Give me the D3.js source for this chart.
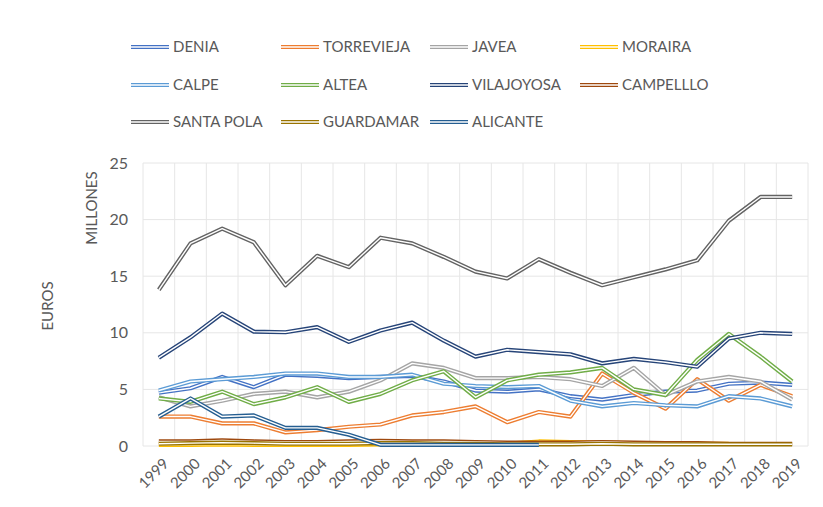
<!DOCTYPE html>
<html>
<head>
<meta charset="utf-8">
<script src="https://cdn.jsdelivr.net/npm/d3@7"></script>
<style>
body { margin: 0; background: #fff; }
text { font-family: Lato, "Open Sans", sans-serif; fill: #595959; }
</style>
</head>
<body>
<div id="chart"></div>
<script>
// years on the x axis
var years = ["1999","2000","2001","2002","2003","2004","2005","2006","2007","2008","2009",
  "2010","2011","2012","2013","2014","2015","2016","2017","2018","2019"];
var yTicks = [0, 5, 10, 15, 20, 25];

// series values (millones de euros)
var denia      = [4.7,5.1,6.1,5.2,6.3,6.2,6.0,6.1,6.2,5.7,4.9,4.8,5.0,4.4,4.1,4.5,4.8,4.9,5.5,5.6,5.4];
var torrevieja = [2.6,2.6,2.0,2.0,1.2,1.4,1.7,1.9,2.7,3.0,3.5,2.1,3.0,2.6,6.4,4.7,3.3,5.9,4.0,5.4,4.4];
var javea      = [4.3,3.5,4.0,4.6,4.8,4.3,4.8,5.8,7.3,6.9,6.0,6.0,6.1,5.9,5.3,6.9,4.5,5.7,6.1,5.7,4.1];
var moraira    = [0.1,0.1,0.15,0.1,0.1,0.1,0.1,0.15,0.15,0.2,0.2,0.2,0.4,0.35,0.3,0.25,0.2,0.2,0.2,null,null];
var calpe      = [4.9,5.7,5.9,6.1,6.4,6.4,6.1,6.1,6.3,5.5,5.3,5.2,5.3,4.0,3.5,3.8,3.6,3.5,4.4,4.2,3.5];
var altea      = [4.2,3.9,4.8,3.7,4.3,5.2,3.9,4.6,5.8,6.6,4.3,5.8,6.3,6.5,6.9,5.0,4.5,7.6,9.9,7.9,5.7];
var vilajoyosa = [7.8,9.6,11.7,10.1,10.05,10.5,9.2,10.2,10.9,9.3,7.9,8.5,8.3,8.1,7.3,7.7,7.4,7.0,9.5,10.0,9.9];
var campelllo  = [0.4,0.4,0.5,0.4,0.35,0.35,0.4,0.45,0.4,0.4,0.35,0.3,0.3,0.3,0.35,0.3,0.25,0.25,0.2,0.2,0.2];
var santaPola  = [13.8,17.9,19.2,18.0,14.2,16.8,15.8,18.4,17.9,16.7,15.4,14.8,16.5,15.3,14.2,14.9,15.6,16.4,19.9,22.0,22.0];
var guardamar  = [0.2,0.25,0.3,0.25,0.2,0.2,0.2,0.25,0.25,0.2,0.2,0.15,0.15,0.15,0.2,0.15,0.15,0.15,0.15,0.15,0.15];
var alicante   = [2.6,4.2,2.6,2.7,1.6,1.6,1.0,0.1,0.1,0.1,0.1,0.1,0.1,null,null,null,null,null,null,null,null];

var names  = ["DENIA","TORREVIEJA","JAVEA","MORAIRA","CALPE","ALTEA","VILAJOYOSA","CAMPELLLO","SANTA POLA","GUARDAMAR","ALICANTE"];
var colors = ["#4472C4","#ED7D31","#A5A5A5","#FFC000","#5B9BD5","#70AD47","#264478","#9E480E","#636363","#997300","#255E91"];
var values = [denia, torrevieja, javea, moraira, calpe, altea, vilajoyosa, campelllo, santaPola, guardamar, alicante];

var series = names.map(function (n, i) {
  return { name: n, color: colors[i], values: values[i] };
});

var width = 823, height = 507;
var plot = { left: 143, right: 808, top: 163, bottom: 446 };

var svg = d3.select("#chart")
  .append("svg")
  .attr("width", width)
  .attr("height", height);

var x = d3.scaleBand()
  .domain(years)
  .range([plot.left, plot.right]);

var y = d3.scaleLinear()
  .domain([0, 25])
  .range([plot.bottom, plot.top]);

// gridlines
svg.append("g")
  .selectAll("line")
  .data(yTicks)
  .enter()
  .append("line")
  .attr("x1", plot.left)
  .attr("x2", plot.right)
  .attr("y1", function (d) { return y(d); })
  .attr("y2", function (d) { return y(d); })
  .attr("stroke", "#e6e6e6")
  .attr("stroke-width", 1);

var edges = years.map(function (d) { return x(d); }).concat([plot.right]);
svg.append("g")
  .selectAll("line")
  .data(edges)
  .enter()
  .append("line")
  .attr("x1", function (d) { return d; })
  .attr("x2", function (d) { return d; })
  .attr("y1", plot.top)
  .attr("y2", plot.bottom)
  .attr("stroke", "#e6e6e6")
  .attr("stroke-width", 1);

// y axis labels
svg.append("g")
  .selectAll("text")
  .data(yTicks)
  .enter()
  .append("text")
  .attr("x", 128)
  .attr("y", function (d) { return y(d); })
  .attr("dy", "0.35em")
  .attr("text-anchor", "end")
  .style("font-size", "16px")
  .text(function (d) { return d; });

// x axis labels
svg.append("g")
  .selectAll("text")
  .data(years)
  .enter()
  .append("text")
  .attr("transform", function (d) {
    return "translate(" + (x(d) + x.bandwidth() / 2 + 7) + "," + 461 + ") rotate(-45)";
  })
  .attr("text-anchor", "end")
  .attr("dy", "0.35em")
  .style("font-size", "15px")
  .text(function (d) { return d; });

// axis titles
svg.append("text")
  .attr("transform", "translate(97,208) rotate(-90)")
  .attr("text-anchor", "middle")
  .style("font-size", "15px")
  .text("MILLONES");

svg.append("text")
  .attr("transform", "translate(53,306) rotate(-90)")
  .attr("text-anchor", "middle")
  .style("font-size", "15px")
  .text("EUROS");

// lines: double compound stroke
var line = d3.line()
  .defined(function (d) { return d != null; })
  .x(function (d, i) { return x(years[i]) + x.bandwidth() / 2; })
  .y(function (d) { return y(d); });

var lines = svg.append("g")
  .selectAll("g")
  .data(series)
  .enter()
  .append("g");

lines.append("path")
  .attr("fill", "none")
  .attr("stroke", function (d) { return d.color; })
  .attr("stroke-width", 4.2)
  .attr("stroke-linejoin", "round")
  .attr("d", function (d) { return line(d.values); });

lines.append("path")
  .attr("fill", "none")
  .attr("stroke", "#ffffff")
  .attr("stroke-width", 1.4)
  .attr("stroke-linejoin", "round")
  .attr("d", function (d) { return line(d.values); });

// legend
var legendCols = [131, 281, 430, 580];
var legendRows = [47, 85, 122];

var legend = svg.append("g")
  .selectAll("g")
  .data(series)
  .enter()
  .append("g")
  .attr("transform", function (d, i) {
    return "translate(" + legendCols[i % 4] + "," + legendRows[Math.floor(i / 4)] + ")";
  });

legend.append("line")
  .attr("x1", 0).attr("x2", 38)
  .attr("y1", 0).attr("y2", 0)
  .attr("stroke", function (d) { return d.color; })
  .attr("stroke-width", 4.2);

legend.append("line")
  .attr("x1", 0).attr("x2", 38)
  .attr("y1", 0).attr("y2", 0)
  .attr("stroke", "#ffffff")
  .attr("stroke-width", 1.4);

legend.append("text")
  .attr("x", 42)
  .attr("y", 0)
  .attr("dy", "0.35em")
  .style("font-size", "15px")
  .text(function (d) { return d.name; });
</script>
</body>
</html>
